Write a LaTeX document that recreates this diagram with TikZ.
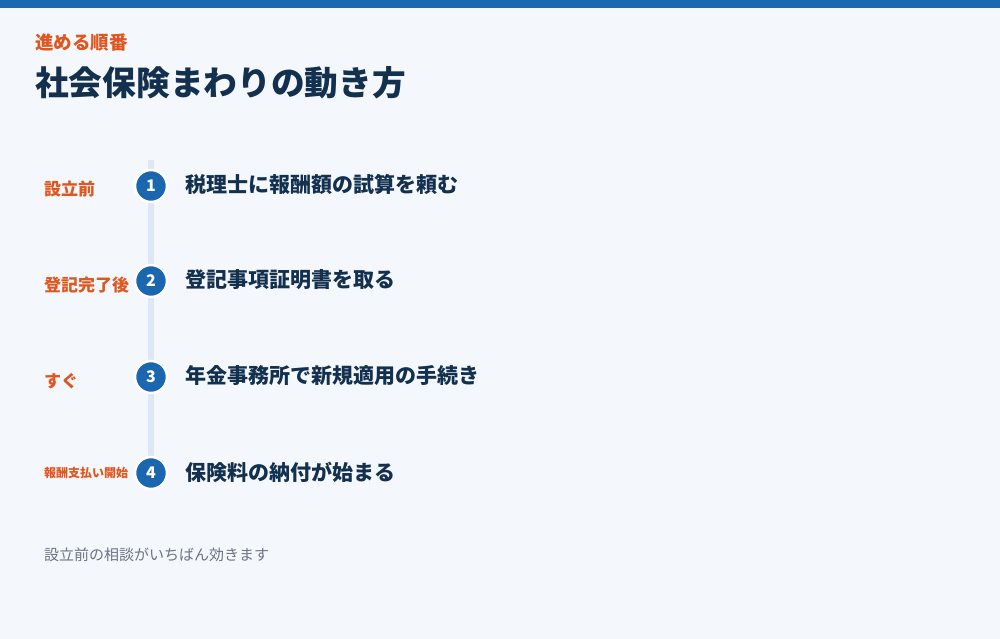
\documentclass[tikz,border=0pt]{standalone}
\usepackage{fontspec}
\setmainfont{Noto Sans CJK JP}
\definecolor{bg}{HTML}{F4F8FC}
\definecolor{topbar}{HTML}{1A69B2}
\definecolor{accent}{HTML}{E0561F}
\definecolor{navy}{HTML}{13304F}
\definecolor{railc}{HTML}{DDE8F6}
\definecolor{dotc}{HTML}{1A66AF}
\definecolor{footc}{HTML}{6B7383}
\tikzset{
  lbl/.style={anchor=west, text=accent, font=\bfseries\fontsize{17}{19}\selectfont, inner sep=0pt},
  steptxt/.style={anchor=west, text=navy, font=\bfseries\fontsize{21}{24}\selectfont, inner sep=0pt},
  dot/.style={circle, fill=dotc, draw=white, line width=2.5pt, minimum size=32pt, inner sep=0pt, text=white, font=\bfseries\fontsize{16}{18}\selectfont},
}
\begin{document}
\begin{tikzpicture}[x=1pt,y=-1pt]
\useasboundingbox (0,0) rectangle (1000,639);
\fill[bg] (0,0) rectangle (1000,639);
\fill[topbar] (0,0) rectangle (1000,8);
\node[anchor=west, text=accent, font=\bfseries\fontsize{18.5}{20}\selectfont, inner sep=0pt] (eyebrow) at (35,43) {進める順番};
\node[anchor=west, text=navy, font=\bfseries\fontsize{33.7}{38}\selectfont, inner sep=0pt] (title) at (35,83) {社会保険まわりの動き方};
\coordinate (railtop) at (151,160);
\coordinate (railbot) at (151,470);
\draw[railc, line width=6pt] (railtop) -- (railbot);
\node[dot] (d1) at (151,186) {\raisebox{-1pt}{1}};
\node[dot] (d2) at (151,281) {\raisebox{-1pt}{2}};
\node[dot] (d3) at (151,377) {\raisebox{-1pt}{3}};
\node[dot] (d4) at (151,473) {\raisebox{-1pt}{4}};
\node[lbl] (l1) at (44,189) {設立前};
\node[lbl] (l2) at (44,285) {登記完了後};
\node[lbl] (l3) at (44,381) {すぐ};
\node[lbl, font=\bfseries\fontsize{12}{14}\selectfont] (l4) at (44,473) {報酬支払い開始};
\node[steptxt] (s1) at (185,184) {税理士に報酬額の試算を頼む};
\node[steptxt] (s2) at (185,280) {登記事項証明書を取る};
\node[steptxt] (s3) at (185,376) {年金事務所で新規適用の手続き};
\node[steptxt] (s4) at (185,472) {保険料の納付が始まる};
\node[anchor=west, text=footc, font=\fontsize{15}{17}\selectfont, inner sep=0pt] (foot) at (44,555) {設立前の相談がいちばん効きます};
\end{tikzpicture}
\end{document}
